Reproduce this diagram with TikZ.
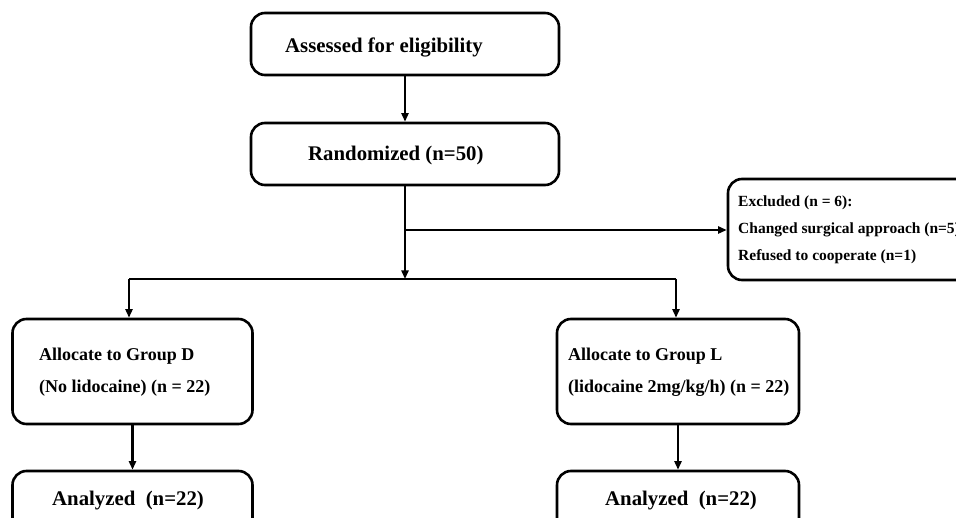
\documentclass[tikz,border=0pt]{standalone}
\usepackage{fontspec}
\setmainfont{Liberation Serif}
\usetikzlibrary{arrows.meta}
\tikzset{
  box/.style={draw, line width=2.6pt, rounded corners=14pt, inner sep=0pt, fill=white},
  lbl/.style={anchor=base west, inner sep=0pt, font=\bfseries},
  big/.style={font=\bfseries\fontsize{20.8}{24}\selectfont},
  mid/.style={font=\bfseries\fontsize{18}{22}\selectfont},
  sml/.style={font=\bfseries\fontsize{15.5}{18}\selectfont},
  conn/.style={line width=2.3pt},
  arr/.style={conn, -{Triangle[length=8.5pt,width=7pt]}}
}
\begin{document}
\begin{tikzpicture}[x=1pt,y=-1pt]
\useasboundingbox (0,0) rectangle (956,518);
\fill[white] (0,0) rectangle (956,518);
\clip (0,0) rectangle (956,518);
% boxes
\node[box, minimum width=308pt, minimum height=62pt] (assess) at (405,44) {};
\node[box, minimum width=308pt, minimum height=62pt] (rand) at (405,154) {};
\node[box, minimum width=260pt, minimum height=101pt] (excl) at (858,229.5) {};
\node[box, minimum width=240pt, minimum height=105pt] (allocD) at (132.5,371.5) {};
\node[box, minimum width=242pt, minimum height=105pt] (allocL) at (678,371.5) {};
\node[box, minimum width=240pt, minimum height=70pt] (anD) at (132.5,506) {};
\node[box, minimum width=242pt, minimum height=70pt] (anL) at (678,506) {};
% texts
\node[lbl, big] (t1) at (285,53) {Assessed for eligibility};
\node[lbl, big] (t2) at (308,161) {Randomized (n=50)};
\node[lbl, sml] (t3) at (738,207) {Excluded (n = 6):};
\node[lbl, sml] (t4) at (738,234) {Changed surgical approach (n=5)};
\node[lbl, sml] (t5) at (738,261) {Refused to cooperate (n=1)};
\node[lbl, mid] (t6) at (39,361) {Allocate to Group D};
\node[lbl, mid] (t7) at (39,393) {(No lidocaine) (n = 22)};
\node[lbl, mid] (t8) at (568,361) {Allocate to Group L};
\node[lbl, mid] (t9) at (568,393) {(lidocaine 2mg/kg/h) (n = 22)};
\node[lbl, big] (t10) at (52,505) {Analyzed\ \ (n=22)};
\node[lbl, big] (t11) at (605,505) {Analyzed\ \ (n=22)};
% connectors
\coordinate (j1) at (405,230);
\coordinate (j2) at (405,279);
\coordinate (cL) at (129,279);
\coordinate (cR) at (676,279);
\draw[arr] (assess.south) -- (rand.north);
\draw[arr] (rand.south) -- (j2);
\draw[arr] (j1) -- (excl.west |- j1);
\draw[conn] (cL) -- (cR);
\draw[arr] (cL) -- (cL |- allocD.north);
\draw[arr] (cR) -- (cR |- allocL.north);
\draw[arr] (allocD.south) -- (anD.north);
\draw[arr] (allocL.south) -- (anL.north);
\end{tikzpicture}
\end{document}
